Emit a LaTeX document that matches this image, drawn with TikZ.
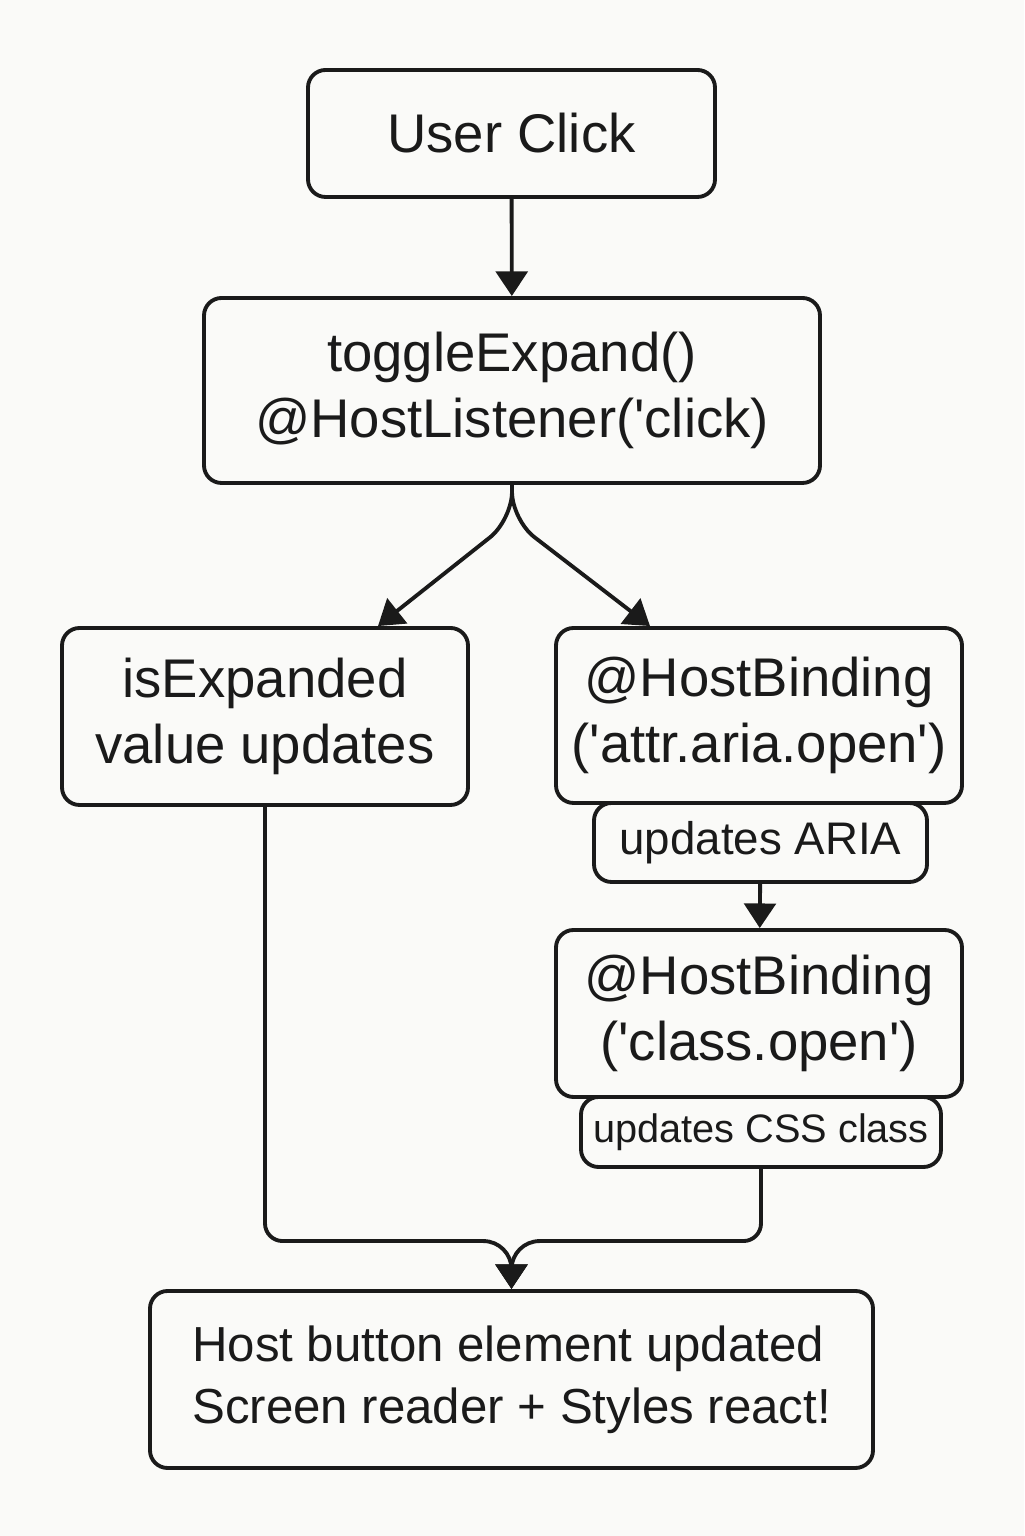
\documentclass[tikz,border=0pt]{standalone}
\usepackage{fontspec}
\newfontfamily\diafont{Liberation Sans}
\usetikzlibrary{arrows.meta,positioning}

\definecolor{ink}{RGB}{26,26,26}
\definecolor{paper}{RGB}{250,250,248}

\begin{document}
\begin{tikzpicture}[
  box/.style={draw=ink,text=ink,line width=1.1pt,rounded corners=5pt,align=center,inner sep=0pt},
  big/.style={font=\diafont\fontsize{15.5}{19}\selectfont},
  small/.style={font=\diafont\fontsize{13}{15}\selectfont},
  arr/.style={draw=ink,line width=1.1pt,-{Triangle[length=7pt,width=9pt]}}
]
\fill[paper] (0,0) rectangle (10.24,15.36);
\useasboundingbox (0,0) rectangle (10.24,15.36);

\node[box,big,minimum width=4.07cm,minimum height=1.27cm] (click) at (5.115,14.025) {User Click};
\node[box,big,minimum width=6.16cm,minimum height=1.85cm] (toggle) at (5.12,11.455) {toggleExpand()\\@HostListener('click)};
\node[box,big,minimum width=4.06cm,minimum height=1.77cm] (isexp) at (2.65,8.195) {isExpanded\\value updates};
\node[box,big,minimum width=4.06cm,minimum height=1.75cm] (aria) at (7.59,8.205) {@HostBinding\\('attr.aria.open')};
\node[box,small,minimum width=3.33cm,minimum height=0.79cm] (ariatag) at (7.605,6.935) {updates ARIA};
\node[box,big,minimum width=4.06cm,minimum height=1.67cm] (cls) at (7.59,5.225) {@HostBinding\\('class.open')};
\node[box,minimum width=3.6cm,minimum height=0.7cm,font=\diafont\fontsize{11.3}{14}\selectfont] (clstag) at (7.61,4.04) {updates CSS class};
\node[box,minimum width=7.23cm,minimum height=1.77cm,font=\diafont\fontsize{14}{17.6}\selectfont,align=left] (host) at (5.115,1.565) {Host button element updated\\Screen reader + Styles react!};

\coordinate (merge) at ([yshift=0.48cm]host.north);

\draw[arr] (click) -- (toggle);
% split towards the two results
\draw[arr,rounded corners=8pt] (toggle.south) -- ++(0,-0.35) -- ([xshift=1.13cm]isexp.north);
\draw[arr,rounded corners=8pt] (toggle.south) -- ++(0,-0.35) -- ([xshift=-1.09cm]aria.north);
\draw[arr] (ariatag) -- (cls);
% both paths join above the host node
\draw[arr,rounded corners=5pt] (isexp.south) |- ([xshift=-0.6cm]merge) [rounded corners=8pt] -- (merge) -- (host.north);
\draw[arr,rounded corners=5pt] (clstag.south) |- ([xshift=0.6cm]merge) [rounded corners=8pt] -- (merge) -- (host.north);
\end{tikzpicture}
\end{document}
